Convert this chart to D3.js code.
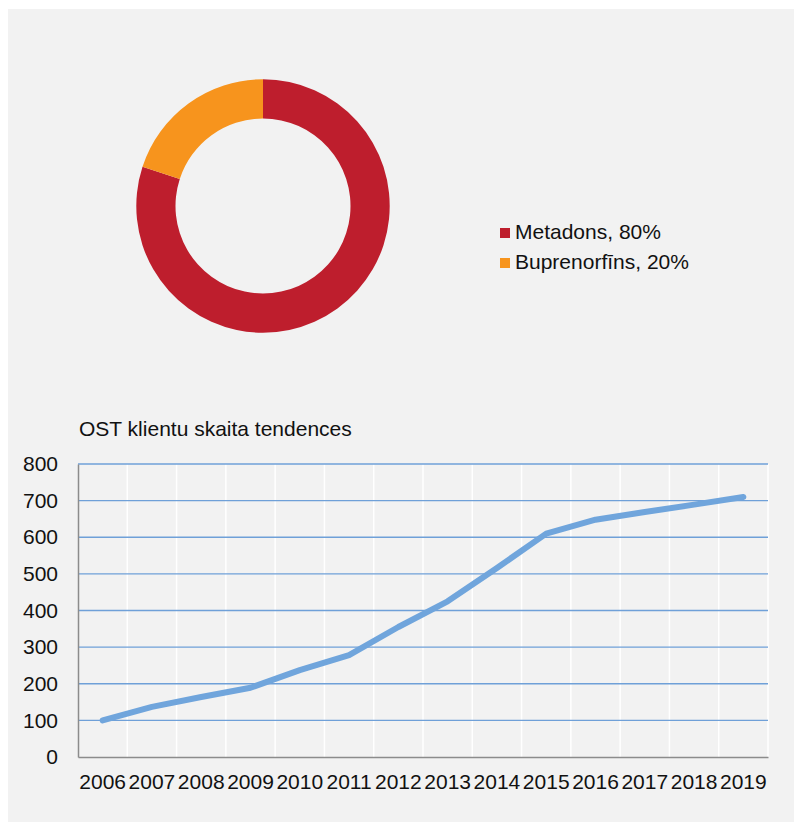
<!DOCTYPE html>
<html>
<head>
<meta charset="utf-8">
<script src="https://cdn.jsdelivr.net/npm/d3@7"></script>
<style>
  body { margin: 0; background: #fff; }
  svg { display: block; font-family: "Liberation Sans", Arial, sans-serif; }
</style>
</head>
<body>
<div id="container"></div>
<script>
var shareLabels = ["Metadons", "Buprenorfīns"]
var shareValues = [80, 20]
var shareColours = ["#be1e2d", "#f7941d"]

var years = ["2006", "2007", "2008", "2009", "2010", "2011", "2012",
             "2013", "2014", "2015", "2016", "2017", "2018", "2019"]
var clients = [100, 137, 164, 189, 237, 278, 355, 425, 516, 610, 648, 669, 689, 710]
var yTicks = [0, 100, 200, 300, 400, 500, 600, 700, 800]

var svg = d3.select("#container").append("svg")
    .attr("width", 794)
    .attr("height", 823)

svg.append("rect")
    .attr("x", 8).attr("y", 9)
    .attr("width", 786).attr("height", 813)
    .attr("fill", "#f2f2f2")

// donut
var pie = d3.pie().sort(null)
var arc = d3.arc().innerRadius(87.5).outerRadius(126.7)

var donut = svg.append("g")
    .attr("transform", "translate(263,206)")

donut.selectAll("path")
    .data(pie(shareValues))
    .join("path")
    .attr("d", arc)
    .attr("fill", function(d, i) { return shareColours[i] })

var legend = svg.append("g")
    .attr("transform", "translate(500,228)")

var item = legend.selectAll("g")
    .data(shareLabels)
    .join("g")
    .attr("transform", function(d, i) { return "translate(0," + (i * 30) + ")" })

item.append("rect")
    .attr("width", 10).attr("height", 10)
    .attr("fill", function(d, i) { return shareColours[i] })

item.append("text")
    .attr("x", 15).attr("y", 11)
    .attr("font-size", "21px")
    .attr("fill", "#111")
    .text(function(d, i) { return d + ", " + shareValues[i] + "%" })

// line chart
var plotLeft = 78, plotRight = 768, plotTop = 464, plotBottom = 757

var x = d3.scaleBand().domain(years).range([plotLeft, plotRight])
var y = d3.scaleLinear().domain([0, 800]).range([plotBottom, plotTop])

svg.append("text")
    .attr("x", 79).attr("y", 436)
    .attr("font-size", "21px")
    .attr("fill", "#111")
    .text("OST klientu skaita tendences")

var grid = svg.append("g")

grid.selectAll(".vgrid")
    .data(years)
    .join("line")
    .attr("class", "vgrid")
    .attr("x1", function(d) { return x(d) + x.step() })
    .attr("x2", function(d) { return x(d) + x.step() })
    .attr("y1", plotTop).attr("y2", plotBottom)
    .attr("stroke", "#fff")
    .attr("stroke-width", 1.5)

grid.selectAll(".hgrid")
    .data(yTicks.slice(1))
    .join("line")
    .attr("class", "hgrid")
    .attr("x1", plotLeft).attr("x2", plotRight)
    .attr("y1", function(d) { return y(d) })
    .attr("y2", function(d) { return y(d) })
    .attr("stroke", "#6fa0d8")
    .attr("stroke-width", 1.4)

svg.append("g")
    .attr("transform", "translate(" + plotLeft + ",0)")
    .call(d3.axisLeft(y).tickValues(yTicks).tickSize(0).tickPadding(20))

svg.append("g")
    .attr("transform", "translate(0," + plotBottom + ")")
    .call(d3.axisBottom(x).tickSize(0).tickPadding(17))

svg.selectAll(".domain")
    .attr("stroke", "#8c8c8c")
    .attr("stroke-width", 1.5)

svg.selectAll(".tick text")
    .attr("font-size", "21px")
    .attr("font-family", "Liberation Sans, Arial, sans-serif")
    .attr("fill", "#111")

var line = d3.line()
    .x(function(d, i) { return x(years[i]) + x.bandwidth() / 2 })
    .y(function(d) { return y(d) })

svg.append("path")
    .datum(clients)
    .attr("d", line)
    .attr("fill", "none")
    .attr("stroke", "#70a5dc")
    .attr("stroke-width", 6)
    .attr("stroke-linecap", "round")
    .attr("stroke-linejoin", "round")
</script>
</body>
</html>
